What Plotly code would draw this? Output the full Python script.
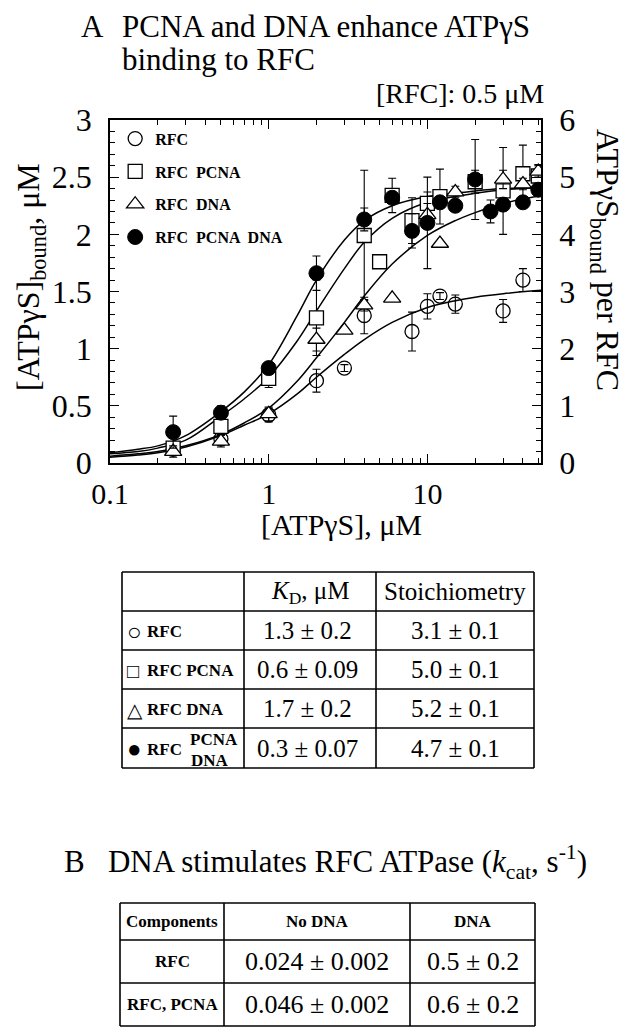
import plotly.graph_objects as go
import math

# ---------------- data ----------------
x_rfc = [0.25, 0.5, 1, 2, 3, 4, 8, 10, 12, 15, 30, 40]
y_rfc = [0.12, 0.21, 0.42, 0.72, 0.83, 1.29, 1.15, 1.37, 1.46, 1.39, 1.33, 1.60]
e_rfc = [0.03, 0.04, 0.06, 0.10, 0.03, 0.16, 0.17, 0.11, 0.03, 0.08, 0.10, 0.10]

x_pcna = [0.25, 0.5, 1, 2, 4, 5, 6, 8, 10, 12, 20, 30, 40, 50]
y_pcna = [0.13, 0.32, 0.74, 1.27, 1.99, 1.76, 2.34, 2.12, 2.27, 2.33, 2.46, 2.38, 2.53, 2.51]
e_pcna = [0.05, 0.06, 0.08, 0.33, 0.57, 0.0, 0.15, 0.20, 0.10, 0.24, 0.10, 0.38, 0.25, 0.10]

x_dna = [0.25, 0.5, 1, 2, 3, 4, 6, 10, 12, 15, 30, 40, 50]
y_dna = [0.10, 0.19, 0.43, 1.08, 1.16, 1.38, 1.44, 2.17, 1.92, 2.37, 2.48, 2.44, 2.55]
e_dna = [0.05, 0.05, 0.06, 0.10, 0.0, 0.05, 0.0, 0.10, 0.0, 0.05, 0.08, 0.05, 0.05]

x_all = [0.25, 0.5, 1, 2, 4, 6, 8, 10, 12, 15, 20, 25, 30, 40, 50]
y_all = [0.27, 0.44, 0.83, 1.66, 2.13, 2.32, 2.03, 2.10, 2.28, 2.25, 2.48, 2.20, 2.26, 2.28, 2.39]
e_all = [0.14, 0.06, 0.05, 0.15, 0.10, 0.05, 0.15, 0.40, 0.05, 0.05, 0.35, 0.10, 0.05, 0.05, 0.05]

# fitted curves
fit_x = [0.1, 0.15, 0.2, 0.3, 0.5, 0.7, 1, 1.5, 2, 3, 4, 6, 10, 15, 20, 30, 52]
fit_rfc = [0.05, 0.07, 0.09, 0.14, 0.24, 0.33, 0.43, 0.60, 0.75, 0.95, 1.08, 1.23, 1.36, 1.42, 1.45, 1.48, 1.51]
fit_pcna = [0.08, 0.10, 0.13, 0.20, 0.41, 0.56, 0.75, 1.06, 1.33, 1.70, 1.93, 2.14, 2.28, 2.33, 2.36, 2.39, 2.41]
fit_dna = [0.06, 0.08, 0.10, 0.15, 0.25, 0.35, 0.48, 0.71, 0.92, 1.23, 1.46, 1.74, 1.99, 2.12, 2.19, 2.27, 2.34]
fit_all = [0.09, 0.12, 0.15, 0.24, 0.45, 0.62, 0.86, 1.28, 1.60, 1.95, 2.12, 2.25, 2.33, 2.36, 2.38, 2.40, 2.41]

series_names = ["RFC", "RFC  PCNA", "RFC  DNA", "RFC  PCNA  DNA"]

x_major = [0.1, 1, 10]
x_major_text = ["0.1", "1", "10"]
x_minor = [0.2, 0.3, 0.4, 0.5, 0.6, 0.7, 0.8, 0.9, 2, 3, 4, 5, 6, 7, 8, 9, 20, 30, 40, 50]

# table A
tabA_header = ["", "<i>K</i><sub>D</sub>, μM", "Stoichiometry"]
tabA_symbols = ["○", "□", "△", "●"]
tabA_labels = ["RFC", "RFC PCNA", "RFC DNA", "RFC"]
tabA_kd = ["1.3 ± 0.2", "0.6 ± 0.09", "1.7 ± 0.2", "0.3 ± 0.07"]
tabA_stoich = ["3.1 ± 0.1", "5.0 ± 0.1", "5.2 ± 0.1", "4.7 ± 0.1"]

# table B
tabB_header = ["Components", "No DNA", "DNA"]
tabB_labels = ["RFC", "RFC, PCNA"]
tabB_nodna = ["0.024 ± 0.002", "0.046 ± 0.002"]
tabB_dna = ["0.5 ± 0.2", "0.6 ± 0.2"]

# ---------------- layout geometry (pixels of the page) ----------------
W, H = 630, 1029
OFF = 8                      # page body margin
L, R, T, B = 110, 541, 120, 463
PW, PH = R - L, B - T

def px(xp):
    return (xp - L) / PW

def py(yp):
    return (B - yp) / PH

SERIF = "Liberation Serif, Times New Roman, serif"
BLACK = "black"

fig = go.Figure()

for fy in [fit_rfc, fit_pcna, fit_dna, fit_all]:
    fig.add_trace(go.Scatter(x=fit_x, y=fy, mode="lines",
                             line=dict(color=BLACK, width=1.5, shape="spline", smoothing=1.0),
                             showlegend=False, hoverinfo="skip"))

def err(arr):
    return dict(type="data", array=arr, visible=True, color=BLACK, thickness=1.1, width=4)

marker_styles = [
    dict(symbol="circle-open", size=14, color=BLACK, line=dict(width=1.3, color=BLACK)),
    dict(symbol="square", size=14, color="white", line=dict(width=1.3, color=BLACK)),
    dict(symbol="triangle-up", size=15, color="white", line=dict(width=1.3, color=BLACK)),
    dict(symbol="circle", size=15, color=BLACK, line=dict(width=1, color=BLACK)),
]
datasets = [(x_rfc, y_rfc, e_rfc), (x_pcna, y_pcna, e_pcna), (x_dna, y_dna, e_dna), (x_all, y_all, e_all)]
for i, ((xs, ys, es), ms) in enumerate(zip(datasets, marker_styles)):
    fig.add_trace(go.Scatter(x=xs, y=ys, mode="markers", name=series_names[i],
                             marker=ms, error_y=err(es), legendgroup=f"g{i}"))

fig.add_trace(go.Scatter(x=[None], y=[None], yaxis="y2", showlegend=False, hoverinfo="skip"))

ytickfont = dict(family=SERIF, size=32, color=BLACK)

fig.update_layout(
    width=W, height=H,
    margin=dict(l=L - OFF, r=W - (R - OFF), t=T - OFF, b=H - (B - OFF), pad=0),
    paper_bgcolor="white", plot_bgcolor="white",
    showlegend=True,
    legend=dict(x=0.012, y=0.995, xanchor="left", yanchor="top",
                bgcolor="rgba(0,0,0,0)", font=dict(family=SERIF, size=16, color=BLACK, weight="bold"),
                tracegroupgap=9, itemsizing="trace"),
    xaxis=dict(type="log", range=[-1, math.log10(52)], tickmode="array", tickvals=x_major, ticktext=x_major_text,
               ticks="inside", ticklen=9, tickwidth=1.2, tickcolor=BLACK,
               showline=True, linecolor=BLACK, linewidth=1.5, mirror="ticks",
               showgrid=False, zeroline=False, tickfont=dict(family=SERIF, size=30, color=BLACK),
               ticklabelstandoff=3, automargin=False,
               minor=dict(tickmode="array", tickvals=x_minor, ticks="inside", ticklen=5, tickwidth=1,
                          tickcolor=BLACK, showgrid=False)),
    yaxis=dict(range=[0, 3], dtick=0.5, ticks="inside", ticklen=9, tickwidth=1.2, tickcolor=BLACK,
               showline=True, linecolor=BLACK, linewidth=1.5, mirror=False,
               showgrid=False, zeroline=False, tickfont=ytickfont, ticklabelstandoff=10, automargin=False,
               minor=dict(dtick=0.1, ticks="inside", ticklen=5, tickwidth=1, tickcolor=BLACK, showgrid=False)),
    yaxis2=dict(range=[0, 6], dtick=1, overlaying="y", side="right", ticks="inside", ticklen=9, tickwidth=1.2,
                tickcolor=BLACK, showline=True, linecolor=BLACK, linewidth=1.5, automargin=False,
                showgrid=False, zeroline=False, tickfont=ytickfont, ticklabelstandoff=10,
                minor=dict(dtick=0.2, ticks="inside", ticklen=5, tickwidth=1, tickcolor=BLACK, showgrid=False)),
)

ann = []
def text(xp, yp, s, size, xanchor="center", bold=False, align="center", angle=0):
    ann.append(dict(x=px(xp), y=py(yp), xref="paper", yref="paper", text=s, showarrow=False,
                    xanchor=xanchor, yanchor="middle", align=align, textangle=angle, borderpad=0,
                    font=dict(family=SERIF, size=size, color=BLACK, weight="bold" if bold else "normal")))

# titles
text(80, 26, "A", 31, xanchor="left")
text(121, 26, "PCNA and DNA enhance ATPγS", 31, xanchor="left")
text(121, 59, "binding to RFC", 31, xanchor="left")
text(545, 93, "[RFC]: 0.5 μM", 28, xanchor="right")

# axis titles
text(341, 524, "[ATPγS], μM", 30)
text(30, 277, "[ATPγS]<sub>bound</sub>, μM", 32, angle=-90)
text(606, 260, "ATPγS<sub>bound</sub> per RFC", 32, angle=90)

# ---- table A ----
shapes = []
def hline(x0, x1, y):
    shapes.append(dict(type="line", xref="paper", yref="paper", x0=px(x0), x1=px(x1), y0=py(y), y1=py(y),
                       line=dict(color=BLACK, width=1.6)))
def vline(x, y0, y1):
    shapes.append(dict(type="line", xref="paper", yref="paper", x0=px(x), x1=px(x), y0=py(y0), y1=py(y1),
                       line=dict(color=BLACK, width=1.6)))

ax = [122, 244, 376, 534]
ay = [572, 611, 650, 689, 728, 768]
for y in ay:
    hline(ax[0], ax[-1], y)
for x in ax:
    vline(x, ay[0], ay[-1])

text((ax[1] + ax[2]) / 2, (ay[0] + ay[1]) / 2 + 1, tabA_header[1], 25)
text((ax[2] + ax[3]) / 2, (ay[0] + ay[1]) / 2, tabA_header[2], 25)
sym_sizes = [24, 20, 20, 24]
for i in range(4):
    yc = (ay[i + 1] + ay[i + 2]) / 2
    text(126, yc + 1, tabA_symbols[i], sym_sizes[i], xanchor="left")
    text(146, yc + 1, tabA_labels[i], 17, xanchor="left", bold=True)
    text((ax[1] + ax[2]) / 2 - 3, yc, tabA_kd[i], 25)
    text((ax[2] + ax[3]) / 2, yc, tabA_stoich[i], 25)
yc = (ay[4] + ay[5]) / 2
text(189, yc - 9, "PCNA", 17, xanchor="left", bold=True)
text(190, yc + 12, "DNA", 17, xanchor="left", bold=True)

# ---- section B ----
text(63, 862, "B   DNA stimulates RFC ATPase (<i>k</i><sub>cat</sub>, s<sup>-1</sup>)", 31, xanchor="left")

bx = [120, 224, 410, 535]
by = [903, 940, 983, 1026]
for y in by:
    hline(bx[0], bx[-1], y)
for x in bx:
    vline(x, by[0], by[-1])
for j in range(3):
    text((bx[j] + bx[j + 1]) / 2, (by[0] + by[1]) / 2, tabB_header[j], 17, bold=True)
for i in range(2):
    yc = (by[i + 1] + by[i + 2]) / 2
    text((bx[0] + bx[1]) / 2, yc, tabB_labels[i], 17, bold=True)
    text((bx[1] + bx[2]) / 2, yc, tabB_nodna[i], 26)
    text((bx[2] + bx[3]) / 2, yc, tabB_dna[i], 26)

fig.update_layout(annotations=ann, shapes=shapes)
fig.write_html("out.html")
